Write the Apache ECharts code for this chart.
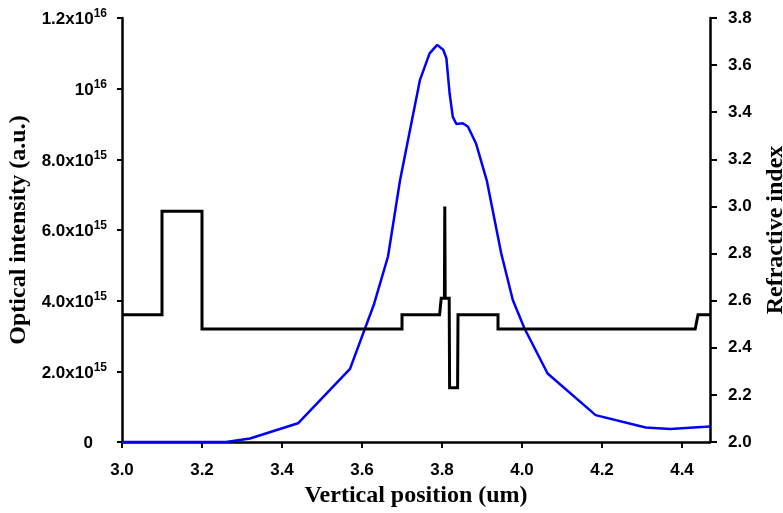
<!DOCTYPE html>
<html><head><meta charset="utf-8">
<script src="https://cdn.jsdelivr.net/npm/echarts@6/dist/echarts.min.js"></script>
<style>html,body{margin:0;padding:0;background:#fff;overflow:hidden}#c{width:783px;height:513px}</style>
</head><body><div id="c"></div>
<script>
// Optical intensity (blue), in units of 1e15 a.u.
const positionUm = [3.0, 3.26, 3.32, 3.44, 3.57, 3.63, 3.665, 3.695, 3.72, 3.745, 3.769, 3.788, 3.803, 3.811, 3.819, 3.827, 3.836, 3.852, 3.865, 3.885, 3.912, 3.948, 3.977, 4.006, 4.064, 4.184, 4.309, 4.371, 4.458, 4.47];
const intensityE15 = [0, 0, 0.1, 0.53, 2.07, 3.9, 5.25, 7.4, 8.83, 10.25, 11.0, 11.24, 11.1, 10.86, 9.87, 9.2, 9.0, 9.02, 8.92, 8.45, 7.4, 5.34, 4.02, 3.22, 1.94, 0.76, 0.41, 0.37, 0.43, 0.44];
// Refractive index profile (black)
const indexPosUm = [3.0, 3.10, 3.10, 3.20, 3.20, 3.70, 3.70, 3.794, 3.798, 3.806, 3.807, 3.808, 3.818, 3.819, 3.839, 3.840, 3.94, 3.94, 4.433, 4.44, 4.47];
const refractiveIndex = [2.54, 2.54, 2.98, 2.98, 2.48, 2.48, 2.54, 2.54, 2.61, 2.61, 3.00, 2.61, 2.61, 2.23, 2.23, 2.54, 2.54, 2.48, 2.48, 2.54, 2.54];
// Left axis tick labels
const leftTickValues = [0, 2, 4, 6, 8, 10, 12];
const leftTickBase = ['0', '2.0x10', '4.0x10', '6.0x10', '8.0x10', '10', '1.2x10'];
const leftTickSup = ['', '15', '15', '15', '15', '16', '16'];

const chart = echarts.init(document.getElementById('c'), null, {renderer: 'canvas'});
const sansB = {fontFamily: 'Liberation Sans', fontWeight: 'bold', color: '#000'};
const serifB = {fontFamily: 'Liberation Serif', fontWeight: 'bold', color: '#000', fontSize: 24};
const axisLine = {show: true, onZero: false, lineStyle: {color: '#000', width: 2.5}};
const axisTick = {show: true, inside: false, length: 6, lineStyle: {color: '#000', width: 2}};

chart.setOption({
  animation: false,
  backgroundColor: '#fff',
  grid: {left: 122, right: 73, top: 18, bottom: 71, containLabel: false, outerBoundsMode: 'none'},
  xAxis: {
    type: 'value', min: 3.0, max: 4.47, interval: 0.2,
    axisLine, axisTick, splitLine: {show: false},
    axisLabel: Object.assign({fontSize: 17, margin: 20, showMaxLabel: false,
      formatter: v => v.toFixed(1)}, sansB),
    name: 'Vertical position (um)', nameLocation: 'middle', nameGap: 33,
    nameTextStyle: serifB
  },
  yAxis: [{
    type: 'value', position: 'left', min: 0, max: 12, interval: 2,
    axisLine, axisTick: Object.assign({}, axisTick, {length: 5}), splitLine: {show: false},
    axisLabel: {
      margin: 15,
      formatter: v => {
        const i = leftTickValues.findIndex(t => Math.abs(t - v) < 1e-6);
        if (i < 0) return '';
        return leftTickSup[i] ? `{b|${leftTickBase[i]}}{s|${leftTickSup[i]}}` : `{b|${leftTickBase[i]}}{p|}`;
      },
      rich: {
        b: Object.assign({fontSize: 17, lineHeight: 20, verticalAlign: 'bottom'}, sansB),
        s: Object.assign({fontSize: 12, lineHeight: 20, verticalAlign: 'top', padding: [0, 0, 8, 0]}, sansB),
        p: {width: 14}
      }
    },
    name: 'Optical intensity (a.u.)', nameLocation: 'middle', nameGap: 88, nameRotate: 90,
    nameTextStyle: serifB
  }, {
    type: 'value', position: 'right', min: 2.0, max: 3.8, interval: 0.2,
    axisLine, axisTick: Object.assign({}, axisTick, {length: 7}), splitLine: {show: false},
    axisLabel: Object.assign({fontSize: 17, margin: 18, formatter: v => v.toFixed(1)}, sansB),
    name: 'Refractive index', nameLocation: 'middle', nameGap: 54, nameRotate: 90,
    nameTextStyle: serifB
  }],
  series: [{
    type: 'line', yAxisIndex: 0, showSymbol: false, symbol: 'none',
    data: positionUm.map((x, i) => [x, intensityE15[i]]),
    lineStyle: {color: '#0000ff', width: 2.5}
  }, {
    type: 'line', yAxisIndex: 1, showSymbol: false, symbol: 'none',
    data: indexPosUm.map((x, i) => [x, refractiveIndex[i]]),
    lineStyle: {color: '#000', width: 3, join: 'miter'}
  }]
});
</script></body></html>
